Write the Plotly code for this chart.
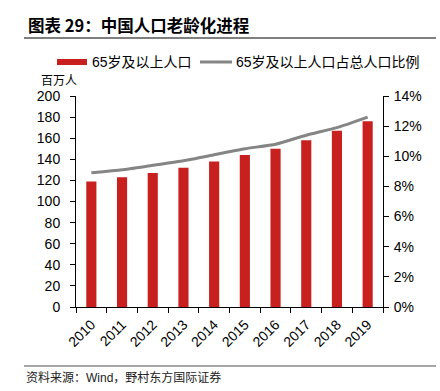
import plotly.graph_objects as go

years = ["2010", "2011", "2012", "2013", "2014", "2015", "2016", "2017", "2018", "2019"]
pop65 = [119, 123, 127, 132, 138, 144, 150, 158, 167, 176]
ratio65 = [8.9, 9.1, 9.4, 9.7, 10.1, 10.5, 10.8, 11.4, 11.9, 12.6]
left_ticks = [0, 20, 40, 60, 80, 100, 120, 140, 160, 180, 200]
right_ticks = [0, 2, 4, 6, 8, 10, 12, 14]

W, H = 440, 391
L, R, T, B = 76, 57, 96, 84
RED = "#C8201F"
GRAY = "#858585"
FONT = "Liberation Sans, Noto Sans CJK SC, Arial, sans-serif"

fig = go.Figure()
fig.add_trace(go.Bar(x=years, y=pop65, marker=dict(color=RED, line=dict(width=0)),
                     name="65岁及以上人口", showlegend=False))
fig.add_trace(go.Scatter(x=years, y=ratio65, yaxis="y2", mode="lines",
                         line=dict(color=GRAY, width=3, shape="spline", smoothing=0.5),
                         name="65岁及以上人口占总人口比例", showlegend=False))

def px(x):
    return (x - L) / (W - L - R)

def py(y):
    return 1 - (y - T) / (H - T - B)

fig.update_layout(
    width=W, height=H,
    margin=dict(l=L, r=R, t=T, b=B),
    paper_bgcolor="white", plot_bgcolor="white",
    font=dict(family=FONT, size=14, color="#000"),
    bargap=0.67,
    xaxis=dict(type="category", showline=True, linecolor="#000", linewidth=1,
               ticks="outside", ticklen=5, tickcolor="#000", tickson="boundaries",
               tickangle=-45, tickfont=dict(size=14), showgrid=False,
               ticklabelstandoff=3),
    yaxis=dict(range=[0, 200], tickvals=left_ticks, showline=True, linecolor="#000",
               linewidth=1, ticks="outside", ticklen=5, tickcolor="#000",
               ticklabelstandoff=7,
               showgrid=False, zeroline=False, tickfont=dict(size=14)),
    yaxis2=dict(range=[0, 14], tickvals=right_ticks,
                ticktext=[f"{v}%" for v in right_ticks],
                overlaying="y", side="right", showline=True, linecolor="#000",
                linewidth=1, ticks="outside", ticklen=5, tickcolor="#000",
                ticklabelstandoff=2,
                showgrid=False, zeroline=False, tickfont=dict(size=14)),
)

shapes = [
    dict(type="line", xref="paper", yref="paper", x0=px(24), x1=px(436), y0=py(38), y1=py(38),
         line=dict(color="#555", width=1.5)),
    dict(type="line", xref="paper", yref="paper", x0=px(24), x1=px(436), y0=py(366), y1=py(366),
         line=dict(color="#888", width=1.5)),
    dict(type="rect", xref="paper", yref="paper", x0=px(57), x1=px(87), y0=py(59), y1=py(65),
         fillcolor=RED, line=dict(width=0)),
    dict(type="line", xref="paper", yref="paper", x0=px(200), x1=px(232), y0=py(62), y1=py(62),
         line=dict(color=GRAY, width=3)),
]
fig.update_layout(shapes=shapes)

ann = [
    dict(text="<b>图表 29：中国人口老龄化进程</b>", x=px(26), y=py(25), xanchor="left", yanchor="middle",
         font=dict(size=16.5, family="Noto Sans CJK SC, sans-serif", color="#000")),
    dict(text="65岁及以上人口", x=px(90), y=py(62), xanchor="left", yanchor="middle",
         font=dict(size=14)),
    dict(text="65岁及以上人口占总人口比例", x=px(234), y=py(62), xanchor="left", yanchor="middle",
         font=dict(size=14)),
    dict(text="百万人", x=px(39), y=py(81), xanchor="left", yanchor="middle",
         font=dict(size=12)),
    dict(text="资料来源：Wind，野村东方国际证券", x=px(24), y=py(377), xanchor="left", yanchor="middle",
         font=dict(size=12, color="#222")),
]
for a in ann:
    a.update(xref="paper", yref="paper", showarrow=False)
fig.update_layout(annotations=ann)

fig.write_html("out.html", config={"displayModeBar": False},
               post_script="document.body.style.margin='0';document.body.style.overflow='hidden';")
